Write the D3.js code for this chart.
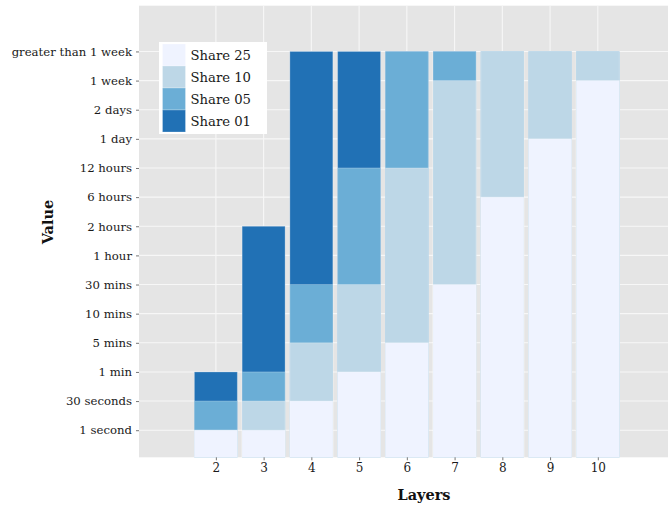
<!DOCTYPE html>
<html>
<head>
<meta charset="utf-8">
<script src="https://cdn.jsdelivr.net/npm/d3@7"></script>
<style>
  body { margin: 0; background: #fff; }
  svg { display: block; }
  text { font-family: "DejaVu Serif", serif; }
</style>
</head>
<body>
<svg id="chart" width="668" height="506"></svg>
<script>
const layers = [2, 3, 4, 5, 6, 7, 8, 9, 10];
const yLevels = ["1 second", "30 seconds", "1 min", "5 mins", "10 mins", "30 mins", "1 hour",
  "2 hours", "6 hours", "12 hours", "1 day", "2 days", "1 week", "greater than 1 week"];
const shareNames = ["Share 25", "Share 10", "Share 05", "Share 01"];
const shareColors = ["#eff3ff", "#bdd7e7", "#6baed6", "#2171b5"];
const share25 = ["1 second", "1 second", "30 seconds", "1 min", "5 mins", "30 mins", "6 hours", "1 day", "1 week"];
const share10 = ["1 second", "30 seconds", "5 mins", "30 mins", "12 hours", "1 week",
  "greater than 1 week", "greater than 1 week", "greater than 1 week"];
const share05 = ["30 seconds", "1 min", "30 mins", "12 hours", "greater than 1 week",
  "greater than 1 week", "greater than 1 week", "greater than 1 week", "greater than 1 week"];
const share01 = ["1 min", "2 hours", "greater than 1 week", "greater than 1 week", "greater than 1 week",
  "greater than 1 week", "greater than 1 week", "greater than 1 week", "greater than 1 week"];

const seriesValues = [share25, share10, share05, share01];

const svg = d3.select("#chart");
const P = { left: 139, right: 668, top: 5.7, bottom: 457.3 };

const x = d3.scaleLinear().domain([0.39, 11.47]).range([P.left, P.right]);
const y = d3.scaleLinear().domain([0.07, 15.57]).range([P.bottom, P.top]);
const level = v => yLevels.indexOf(v) + 1;

// panel
svg.append("rect").attr("x", P.left).attr("y", P.top)
  .attr("width", P.right - P.left).attr("height", P.bottom - P.top).attr("fill", "#e5e5e5");

const grid = svg.append("g");
grid.selectAll("line.h").data(d3.range(1, yLevels.length + 1)).enter().append("line")
  .attr("x1", P.left).attr("x2", P.right).attr("y1", d => y(d)).attr("y2", d => y(d))
  .attr("stroke", "#f7f7f7").attr("stroke-width", 1.1);
grid.selectAll("line.v").data(layers).enter().append("line")
  .attr("y1", P.top).attr("y2", P.bottom).attr("x1", d => x(d)).attr("x2", d => x(d))
  .attr("stroke", "#f7f7f7").attr("stroke-width", 1.1);

// bars: draw largest share (Share 01) first
const barW = x(0.9) - x(0);
for (let s = shareNames.length - 1; s >= 0; s--) {
  const vals = seriesValues[s];
  svg.append("g").selectAll("rect").data(layers).enter().append("rect")
    .attr("x", d => x(d) - barW / 2)
    .attr("width", barW)
    .attr("y", (d, i) => y(level(vals[i])))
    .attr("height", (d, i) => P.bottom - y(level(vals[i])))
    .attr("fill", shareColors[s])
    .attr("stroke", "#ffffff").attr("stroke-opacity", 0.25).attr("stroke-width", 1);
}

// axes
const yAxis = d3.axisLeft(y).tickValues(d3.range(1, yLevels.length + 1))
  .tickFormat(d => yLevels[d - 1]).tickSize(3).tickPadding(4);
const gy = svg.append("g").attr("transform", `translate(${P.left},0)`).call(yAxis);
gy.select(".domain").remove();
gy.selectAll("line").attr("stroke", "#777");
gy.selectAll("text").attr("font-family", "DejaVu Serif").attr("font-size", 11.7).attr("fill", "#1a1a1a");

const xAxis = d3.axisBottom(x).tickValues(layers).tickFormat(d3.format("d")).tickSize(3).tickPadding(3);
const gx = svg.append("g").attr("transform", `translate(0,${P.bottom})`).call(xAxis);
gx.select(".domain").remove();
gx.selectAll("line").attr("stroke", "#777");
gx.selectAll("text").attr("font-family", "DejaVu Serif").attr("font-size", 12).attr("fill", "#1a1a1a");

// titles
svg.append("text").attr("x", 424).attr("y", 500).attr("text-anchor", "middle")
  .attr("font-size", 14.5).attr("font-weight", "bold").attr("fill", "#111").text("Layers");
svg.append("text").attr("transform", "translate(53,222) rotate(-90)").attr("text-anchor", "middle")
  .attr("font-size", 14.5).attr("font-weight", "bold").attr("fill", "#111").text("Value");

// legend
const lg = svg.append("g");
lg.append("rect").attr("x", 159).attr("y", 42).attr("width", 108).attr("height", 92).attr("fill", "#fff");
shareNames.forEach((n, i) => {
  lg.append("rect").attr("x", 162.5).attr("y", 44 + i * 22).attr("width", 23).attr("height", 22)
    .attr("fill", shareColors[i]).attr("stroke", "#ffffff").attr("stroke-opacity", 0.25);
  lg.append("text").attr("x", 190.5).attr("y", 55.5 + i * 22).attr("dy", "0.35em")
    .attr("font-size", 13.2).attr("fill", "#1a1a1a").text(n);
});
</script>
</body>
</html>
